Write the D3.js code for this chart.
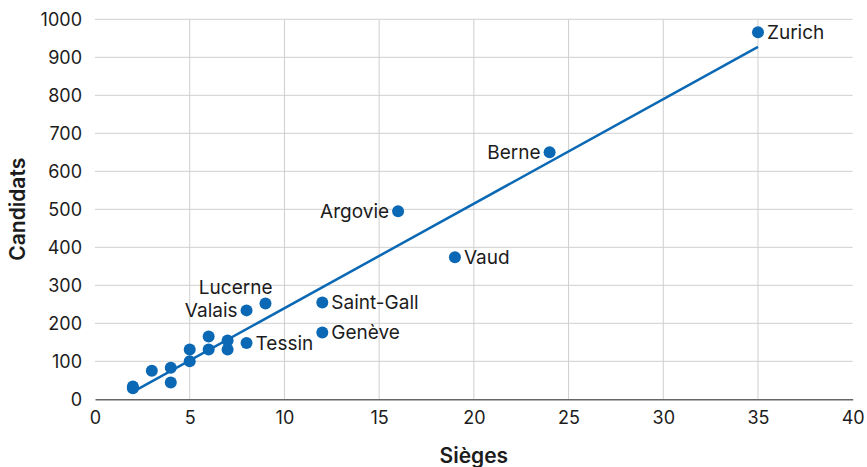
<!DOCTYPE html>
<html>
<head>
<meta charset="utf-8">
<script src="https://cdn.jsdelivr.net/npm/d3@7"></script>
<style>
  body { margin: 0; background: #fff; }
  svg { display: block; font-family: Inter, "Noto Sans", sans-serif; }
</style>
</head>
<body>
<svg id="chart" width="867" height="467"></svg>
<script>
// Data: seats (Sièges) and candidates (Candidats) by canton
const cantons = ["Zurich","Berne","Vaud","Argovie","Saint-Gall","Genève","Lucerne","Tessin","Valais",
  "Fribourg","Bâle-Campagne","Soleure","Thurgovie","Bâle-Ville","Grisons","Neuchâtel","Schwyz","Zoug","Jura","Schaffhouse"];
const seats = [35,24,19,16,12,12,9,8,8,7,7,6,6,5,5,4,4,3,2,2];
const candidates = [966,650,374,495,255,176,252,148,234,155,131,165,131,131,100,83,44,75,34,29];
const labelled = ["Zurich","Berne","Vaud","Argovie","Saint-Gall","Genève","Lucerne","Tessin","Valais"];
const labelSide = {"Zurich":"right","Berne":"left","Vaud":"right","Argovie":"left","Saint-Gall":"right",
  "Genève":"right","Lucerne":"above","Tessin":"right","Valais":"left"};
const xTicks = [0,5,10,15,20,25,30,35,40];
const yTicks = [0,100,200,300,400,500,600,700,800,900,1000];

const svg = d3.select("#chart");
const m = {left: 95, right: 852.7, top: 19.3, bottom: 399.3};
const x = d3.scaleLinear().domain([0, 40]).range([m.left, m.right]);
const y = d3.scaleLinear().domain([0, 1000]).range([m.bottom, m.top]);
const blue = "#0b68b4";
const text = "#1c1c1c";
const FONT = "Inter, 'Noto Sans', sans-serif";

// gridlines
svg.append("g").selectAll("line").data(yTicks.filter(d => d > 0)).join("line")
  .attr("x1", m.left).attr("x2", m.right)
  .attr("y1", d => y(d)).attr("y2", d => y(d))
  .attr("stroke", "#cfcfcf").attr("stroke-width", 1);
svg.append("g").selectAll("line").data(xTicks.filter(d => d > 0 && d < 40)).join("line")
  .attr("x1", d => x(d)).attr("x2", d => x(d))
  .attr("y1", m.top).attr("y2", m.bottom)
  .attr("stroke", "#cfcfcf").attr("stroke-width", 1);

// axes
const xAxis = d3.axisBottom(x).tickValues(xTicks).tickSize(0).tickPadding(12).tickFormat(d3.format("d"));
const gx = svg.append("g").attr("transform", `translate(0,${m.bottom})`).call(xAxis);
gx.select(".domain").attr("stroke", "#666").attr("stroke-width", 1.5);
gx.selectAll("text").attr("font-size", 18).attr("fill", text).attr("font-family", FONT);

const yAxis = d3.axisLeft(y).tickValues(yTicks).tickSize(0).tickPadding(13).tickFormat(d3.format("d"));
const gy = svg.append("g").attr("transform", `translate(${m.left},0)`).call(yAxis);
gy.select(".domain").remove();
gy.selectAll("text").attr("font-size", 18).attr("fill", text).attr("font-family", FONT);

// axis titles
svg.append("text").attr("x", (m.left + m.right) / 2).attr("y", 463)
  .attr("text-anchor", "middle").attr("font-size", 21).attr("font-weight", 600).attr("fill", text)
  .attr("font-family", FONT).text("Sièges");
svg.append("text").attr("transform", `translate(25,${(m.top + m.bottom) / 2}) rotate(-90)`)
  .attr("text-anchor", "middle").attr("font-size", 21).attr("font-weight", 600).attr("fill", text)
  .attr("font-family", FONT).text("Candidats");

// regression line (least squares on the data)
const n = seats.length;
const mx = d3.mean(seats), my = d3.mean(candidates);
let sxy = 0, sxx = 0;
for (let i = 0; i < n; i++) { sxy += (seats[i]-mx)*(candidates[i]-my); sxx += (seats[i]-mx)**2; }
const slope = sxy / sxx, icpt = my - slope * mx;
const xmin = d3.min(seats), xmax = d3.max(seats);
svg.append("line")
  .attr("x1", x(xmin)).attr("y1", y(icpt + slope * xmin))
  .attr("x2", x(xmax)).attr("y2", y(icpt + slope * xmax))
  .attr("stroke", blue).attr("stroke-width", 2.5);

// points
const pts = cantons.map((c, i) => ({c, s: seats[i], v: candidates[i]}));
svg.append("g").selectAll("circle").data(pts).join("circle")
  .attr("cx", d => x(d.s)).attr("cy", d => y(d.v)).attr("r", 6).attr("fill", blue);

// labels
svg.append("g").selectAll("text").data(pts.filter(d => labelled.includes(d.c))).join("text")
  .attr("x", d => {
    const side = labelSide[d.c];
    if (side === "right") return x(d.s) + 9;
    if (side === "left") return x(d.s) - 9;
    return x(d.s) + 7;
  })
  .attr("y", d => labelSide[d.c] === "above" ? y(d.v) - 10 : y(d.v) + 6.5)
  .attr("text-anchor", d => labelSide[d.c] === "right" ? "start" : "end")
  .attr("font-size", 19).attr("fill", text).attr("font-family", FONT)
  .text(d => d.c);
</script>
</body>
</html>
